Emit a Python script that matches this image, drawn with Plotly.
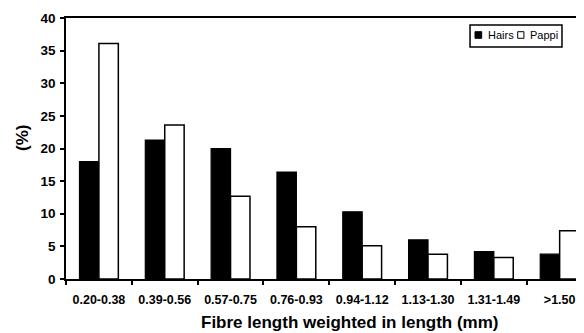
import plotly.graph_objects as go

categories = ["0.20-0.38", "0.39-0.56", "0.57-0.75", "0.76-0.93",
              "0.94-1.12", "1.13-1.30", "1.31-1.49", ">1.50"]
hairs = [18.0, 21.3, 20.0, 16.4, 10.3, 6.0, 4.2, 3.8]
pappi = [36.1, 23.6, 12.7, 8.0, 5.1, 3.8, 3.3, 7.4]
y_ticks = [0, 5, 10, 15, 20, 25, 30, 35, 40]

FONT = "Liberation Sans, Arial, sans-serif"

fig = go.Figure()
fig.add_trace(go.Bar(x=categories, y=hairs, name="Hairs",
                     marker=dict(color="black", line=dict(color="black", width=1.2)),
                     showlegend=False))
fig.add_trace(go.Bar(x=categories, y=pappi, name="Pappi",
                     marker=dict(color="white", line=dict(color="black", width=1.5)),
                     showlegend=False))

# page has an 8px body margin: figure is sized/offset to compensate
fig.update_layout(
    width=576, height=325,
    margin=dict(l=58, r=0, t=10, b=54),
    paper_bgcolor="white", plot_bgcolor="white",
    barmode="group", bargap=0.41, bargroupgap=0,
    font=dict(family=FONT, color="black"),
)
fig.update_xaxes(
    range=[-0.5, 7.37], showgrid=False, zeroline=False,
    showline=True, linecolor="black", linewidth=1.5, mirror=True,
    ticks="outside", tickson="boundaries", ticklen=4, tickwidth=1.5, tickcolor="black",
    ticklabelstandoff=8,
    tickfont=dict(family=FONT, size=12.5, weight="bold", color="black"),
)
fig.update_yaxes(
    range=[0, 40], tickvals=y_ticks, showgrid=False, zeroline=False,
    showline=True, linecolor="black", linewidth=1.5, mirror=False,
    ticks="outside", ticklen=4, tickwidth=1.5, tickcolor="black",
    ticklabelstandoff=2,
    tickfont=dict(family=FONT, size=13.5, weight="bold", color="black"),
)

# axis titles
fig.add_annotation(text="Fibre length weighted in length (mm)", xref="paper", yref="paper",
                   x=0.549, y=-0.165, xanchor="center", yanchor="middle", showarrow=False,
                   font=dict(family=FONT, size=17, weight="bold", color="black"))
fig.add_annotation(text="(%)", xref="paper", yref="paper", textangle=-90,
                   x=-0.085, y=0.54, xanchor="center", yanchor="middle", showarrow=False,
                   font=dict(family=FONT, size=17, weight="bold", color="black"))

# legend box
fig.add_shape(type="rect", xref="paper", yref="paper", x0=0.780, x1=0.9575, y0=0.889, y1=0.973,
              line=dict(color="black", width=1.5), fillcolor="white")
fig.add_shape(type="rect", xref="paper", yref="paper", x0=0.7896, x1=0.8025, y0=0.9222, y1=0.9475,
              line=dict(color="black", width=1), fillcolor="black")
fig.add_shape(type="rect", xref="paper", yref="paper", x0=0.872, x1=0.884, y0=0.9222, y1=0.9475,
              line=dict(color="black", width=1), fillcolor="white")
fig.add_annotation(text="Hairs", xref="paper", yref="paper", x=0.8102, y=0.9349,
                   xanchor="left", yanchor="middle", showarrow=False,
                   font=dict(family=FONT, size=11, color="black"))
fig.add_annotation(text="Pappi", xref="paper", yref="paper", x=0.8913, y=0.9349,
                   xanchor="left", yanchor="middle", showarrow=False,
                   font=dict(family=FONT, size=11, color="black"))

fig.write_html("out.html")
